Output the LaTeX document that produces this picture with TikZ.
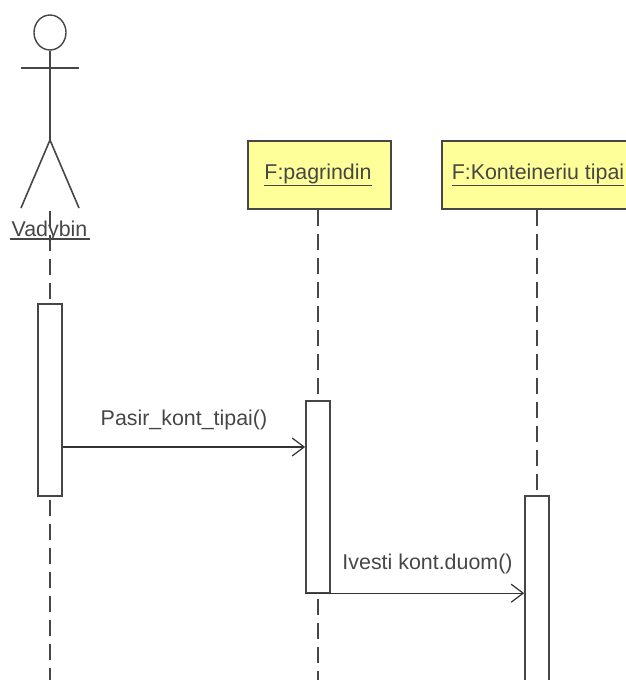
\documentclass[tikz,border=0pt]{standalone}
\usepackage{fontspec}
\setmainfont{Liberation Sans}
\usetikzlibrary{arrows.meta,shapes.geometric}
\definecolor{boxfill}{RGB}{255,255,153}
\definecolor{ink}{RGB}{70,70,70}
\definecolor{lifeink}{RGB}{70,70,70}
\tikzset{
  x=1pt,y=-1pt,
  life/.style={draw=lifeink,line width=2.6pt,dash pattern=on 16pt off 8pt},
  objbox/.style={draw=ink,line width=1.9pt,fill=boxfill,minimum height=68pt,inner sep=0pt,anchor=north west},
  activ/.style={draw=ink,line width=1.7pt,fill=white,minimum width=24pt,inner sep=0pt,anchor=north},
  actorline/.style={draw=ink,line width=1.6pt},
  msg/.style={draw=black!80,line width=1.4pt,-{Straight Barb[length=12pt,width=18pt,line width=1.2pt]}},
  lbl/.style={font=\fontsize{21.4}{25}\selectfont,text=ink,inner sep=0pt,anchor=base},
}
\begin{document}
\begin{tikzpicture}
\useasboundingbox (0,0) rectangle (626,680);
\coordinate (actorEnd) at (50,680);
\coordinate (pagEnd) at (318,680);
\coordinate (actorTop) at (50,211);
\node[objbox,minimum width=143pt] (pag) at (247,140) {};
\node[objbox,minimum width=186pt] (kon) at (441,140) {};
\node[activ,minimum height=192pt] (a1) at (50,303) {};
\node[activ,minimum height=191.5pt] (a2) at (318,400) {};
\node[activ,minimum height=190pt] (a3) at (537,495) {};
\draw[life] (actorTop) -- (a1.north);
\draw[life,dash phase=21pt] (a1.south) -- (actorEnd);
\draw[life] (pag.south -| a2.north) -- (a2.north);
\draw[life,dash phase=18pt] (a2.south) -- (pagEnd);
\draw[life] (kon.south -| a3.north) -- (a3.north);
\node[draw=ink,line width=1.4pt,ellipse,minimum width=32pt,minimum height=35pt,inner sep=0pt] (head) at (50,32.5) {};
\coordinate (armL) at (21,68);
\coordinate (armR) at (79,68);
\coordinate (hip) at (50,140);
\coordinate (legL) at (21,208);
\coordinate (legR) at (79,208);
\draw[actorline] (head.south) -- (hip);
\draw[actorline] (armL) -- (armR);
\draw[actorline] (legL) -- (hip) -- (legR);
\node[lbl] (actorName) at (49.5,236) {Vadybin};
\draw[actorline,line width=1.2pt] (10,239) -- (90,239);
\node[lbl] (pagName) at (318,179) {\underline{F:pagrindin}};
\node[lbl] (konName) at (538,179) {\underline{F:Konteineriu tipai}};
\coordinate (m1s) at (a1.east |- 0,447);
\coordinate (m1e) at (a2.west |- 0,447);
\coordinate (m2s) at (a2.south west);
\coordinate (m2e) at (a3.west |- a2.south);
\draw[msg] (m1s) -- (m1e);
\draw[msg] (m2s) -- (m2e);
\node[lbl] (m1) at (184,425) {Pasir\_kont\_tipai()};
\node[lbl] (m2) at (427.5,569) {Ivesti kont.duom()};
\end{tikzpicture}
\end{document}
